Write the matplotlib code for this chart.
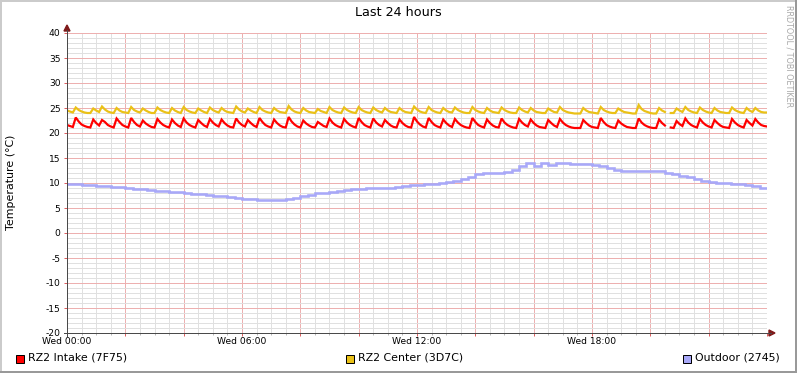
import numpy as np
import matplotlib
matplotlib.use("Agg")
import matplotlib.pyplot as plt
from matplotlib.patches import Rectangle, Polygon
from matplotlib.lines import Line2D

nan = np.nan

# ---------------- data ----------------
title = "Last 24 hours"
y_label = "Temperature (°C)"
watermark = "RRDTOOL / TOBI OETIKER"
series_names = ["RZ2 Intake (7F75)", "RZ2 Center (3D7C)", "Outdoor (2745)"]
series_colors = ["#FF0000", "#EAC117", "#A8A8F8"]
x_tick_hours = [0, 6, 12, 18]
x_tick_labels = ["Wed 00:00", "Wed 06:00", "Wed 12:00", "Wed 18:00"]
y_ticks = [-20, -15, -10, -5, 0, 5, 10, 15, 20, 25, 30, 35, 40]

# samples every 0.1 h (6 min)
intake_step_h = 0.1
intake = [
    21.6, 21.4, 21.2, 23.1, 22.3, 21.7, 21.4, 21.2, 21.1, 22.7,
    22.0, 21.5, 22.6, 22.2, 21.6, 21.3, 21.1, 22.9, 22.2, 21.6,
    21.3, 21.1, 23.0, 22.2, 21.6, 21.3, 22.5, 21.9, 21.5, 21.2,
    21.1, 22.8, 22.1, 21.6, 21.3, 21.1, 22.7, 22.0, 21.5, 21.2,
    22.9, 22.1, 21.6, 21.3, 21.1, 22.6, 22.0, 21.5, 21.2, 22.8,
    22.1, 21.6, 21.3, 22.7, 22.0, 21.5, 21.2, 21.1, 22.9, 22.1,
    21.6, 21.3, 22.6, 22.0, 21.5, 21.2, 23.0, 22.2, 21.6, 21.3,
    21.1, 22.7, 22.0, 21.5, 21.2, 21.1, 23.2, 22.3, 21.7, 21.3,
    21.1, 22.5, 21.9, 21.5, 21.2, 21.1, 22.2, 21.8, 21.4, 21.2,
    22.9, 22.1, 21.6, 21.3, 21.1, 22.8, 22.1, 21.6, 21.3, 21.1,
    23.0, 22.2, 21.6, 21.3, 21.1, 22.9, 22.1, 21.6, 21.3, 22.6,
    22.0, 21.5, 21.2, 21.1, 22.7, 22.0, 21.5, 21.2, 21.1, 23.2,
    22.3, 21.7, 21.3, 21.1, 23.0, 22.2, 21.6, 21.3, 21.1, 22.7,
    22.0, 21.5, 21.2, 22.8, 22.1, 21.6, 21.3, 21.1, 21.0, 23.0,
    22.2, 21.6, 21.3, 21.1, 22.7, 22.0, 21.5, 21.2, 21.1, 22.9,
    22.1, 21.6, 21.3, 21.1, 21.0, 22.8, 22.1, 21.6, 21.3, 22.7,
    22.0, 21.5, 21.2, 21.1, 21.0, 22.6, 22.0, 21.5, 21.2, 22.8,
    22.1, 21.6, 21.3, 21.1, 21.0, 21.0, 21.0, 22.6, 22.0, 21.5,
    21.2, 21.1, 21.0, 23.0, 22.2, 21.6, 21.3, 21.1, 21.0, 22.5,
    21.9, 21.5, 21.2, 21.1, 21.0, 21.0, 22.9, 22.1, 21.6, 21.3,
    21.1, 21.0, 21.0, 22.7, 22.0, 21.5, nan, 21.1, 21.0, 22.4,
    21.8, 21.4, 22.9, 22.1, 21.6, 21.3, 21.1, 22.8, 22.1, 21.6,
    21.3, 21.1, 22.6, 22.0, 21.5, 21.2, 21.1, 21.0, 22.8, 22.1,
    21.6, 21.3, 21.1, 22.6, 22.0, 21.5, 22.8, 22.1, 21.6, 21.4,
    21.3,
]

center_step_h = 0.1
center = [
    24.5, 24.3, 24.1, 25.1, 24.6, 24.3, 24.1, 24.0, 24.0, 24.9,
    24.5, 24.2, 25.3, 24.7, 24.3, 24.1, 24.0, 25.0, 24.5, 24.2,
    24.1, 24.0, 25.2, 24.6, 24.3, 24.1, 24.9, 24.5, 24.2, 24.0,
    24.0, 25.1, 24.6, 24.3, 24.1, 24.0, 25.0, 24.5, 24.2, 24.0,
    25.2, 24.6, 24.3, 24.1, 24.0, 24.9, 24.5, 24.2, 24.0, 25.1,
    24.6, 24.3, 24.1, 25.0, 24.5, 24.2, 24.1, 24.0, 25.3, 24.7,
    24.3, 24.1, 24.9, 24.5, 24.2, 24.0, 25.2, 24.6, 24.3, 24.1,
    24.0, 25.0, 24.5, 24.2, 24.1, 24.0, 25.4, 24.7, 24.3, 24.1,
    24.0, 25.0, 24.5, 24.2, 24.1, 24.0, 24.8, 24.4, 24.2, 24.0,
    25.2, 24.6, 24.3, 24.1, 24.0, 25.1, 24.6, 24.3, 24.1, 24.0,
    25.2, 24.6, 24.3, 24.1, 24.0, 25.1, 24.6, 24.3, 24.1, 25.0,
    24.5, 24.2, 24.1, 24.0, 25.0, 24.5, 24.2, 24.1, 24.0, 25.3,
    24.7, 24.3, 24.1, 24.0, 25.2, 24.6, 24.3, 24.1, 24.0, 25.0,
    24.5, 24.2, 24.1, 25.1, 24.6, 24.3, 24.1, 24.0, 24.0, 25.2,
    24.6, 24.3, 24.1, 24.0, 25.0, 24.5, 24.2, 24.1, 24.0, 25.1,
    24.6, 24.3, 24.1, 24.0, 24.0, 25.1, 24.6, 24.3, 24.1, 25.0,
    24.5, 24.2, 24.1, 24.0, 24.0, 24.9, 24.5, 24.2, 24.1, 25.2,
    24.6, 24.3, 24.1, 24.0, 23.9, 23.9, 23.9, 25.0, 24.5, 24.2,
    24.1, 24.0, 23.9, 25.2, 24.6, 24.3, 24.1, 24.0, 24.0, 24.9,
    24.5, 24.2, 24.1, 24.0, 23.9, 23.9, 25.6, 24.8, 24.4, 24.2,
    24.0, 23.9, 23.9, 25.0, 24.5, 24.2, nan, 24.0, 24.0, 24.9,
    24.5, 24.2, 25.2, 24.6, 24.3, 24.1, 24.0, 25.1, 24.6, 24.3,
    24.1, 24.0, 25.0, 24.5, 24.2, 24.1, 24.0, 24.0, 25.1, 24.6,
    24.3, 24.1, 24.0, 25.0, 24.5, 24.2, 25.0, 24.5, 24.2, 24.1,
    24.1,
]

# samples every 0.25 h
outdoor_step_h = 0.25
outdoor = [
    9.8, 9.8, 9.6, 9.6, 9.5, 9.4, 9.3, 9.2,
    9.0, 8.9, 8.8, 8.7, 8.5, 8.4, 8.3, 8.2,
    8.0, 7.9, 7.8, 7.6, 7.5, 7.4, 7.3, 7.1,
    6.9, 6.8, 6.7, 6.6, 6.6, 6.6, 6.8, 7.0,
    7.4, 7.7, 8.0, 8.1, 8.3, 8.5, 8.6, 8.8,
    8.9, 9.0, 9.0, 9.0, 9.1, 9.3, 9.5, 9.6,
    9.7, 9.8, 9.9, 10.0, 10.2, 10.5, 10.8, 11.3,
    11.9, 12.1, 12.1, 12.1, 12.2, 12.7, 13.4, 14.1,
    13.4, 14.1, 13.6, 14.1, 14.0, 13.8, 13.8, 13.8,
    13.6, 13.4, 13.0, 12.7, 12.5, 12.4, 12.4, 12.4,
    12.4, 12.4, 12.1, 11.9, 11.5, 11.2, 10.8, 10.5,
    10.2, 10.1, 10.0, 9.9, 9.8, 9.6, 9.4, 9.1,
    9.0,
]

# ---------------- figure ----------------
W, H, DPI = 797, 373, 100
fig = plt.figure(figsize=(W / DPI, H / DPI), dpi=DPI, facecolor="white")
plt.rcParams["font.family"] = ["DejaVu Sans"]

def fx(x):
    return x / W

def fy(y):
    return 1 - y / H

PX = 72.0 / DPI  # one pixel in points

# plot canvas: x 67..767, y 33..333
ax = fig.add_axes([fx(67), fy(333), (767 - 67) / W, 300 / H])
ax.set_facecolor("white")
ax.set_xlim(0, 24)
ax.set_ylim(-20, 40)

for vals, step, color, lw, ds in [
    (outdoor, outdoor_step_h, series_colors[2], 2.6, "steps-post"),
    (center, center_step_h, series_colors[1], 2.2, "default"),
    (intake, intake_step_h, series_colors[0], 2.2, "default"),
]:
    t = np.arange(len(vals)) * step
    ax.plot(t, vals, drawstyle=ds, color=color, lw=lw * PX,
            solid_joinstyle="miter", zorder=3)

# ticks & grid
ax.set_xticks(np.arange(0, 24.01, 2))
ax.set_xticks(np.arange(0, 24.01, 0.5), minor=True)
lab = dict(zip(x_tick_hours, x_tick_labels))
ax.set_xticklabels([lab.get(int(h), "") for h in np.arange(0, 24.01, 2)])
ax.set_yticks(y_ticks)
ax.set_yticks(np.arange(-20, 40.01, 1), minor=True)
ax.set_yticklabels([str(v) for v in y_ticks])

ax.set_axisbelow(True)
ax.grid(which="minor", color="#E0E0E0", linestyle=(0, (1, 1)), lw=PX, antialiased=False)
ax.grid(which="major", color="#EDB0B0", linestyle=(0, (1, 1)), lw=PX, antialiased=False)

ax.tick_params(axis="x", which="major", direction="out", length=3 * PX, width=PX,
               color="#E06060", labelsize=6.6, pad=1.0, labelcolor="black")
ax.tick_params(axis="x", which="minor", direction="out", length=2 * PX, width=PX,
               color="#B8B8B8")
ax.tick_params(axis="y", which="major", direction="out", length=3 * PX, width=PX,
               color="#E06060", labelsize=6.6, pad=2.5, labelcolor="black")
ax.tick_params(axis="y", which="minor", length=0)

for s in ax.spines.values():
    s.set_visible(False)

# axes lines with arrows (figure pixel coords)
axis_col = "#4A4A4A"
arrow_col = "#7F1A1A"
fig.add_artist(Line2D([fx(64), fx(771)], [fy(333), fy(333)], color=axis_col,
                      lw=PX, transform=fig.transFigure, antialiased=False))
fig.add_artist(Line2D([fx(67), fx(67)], [fy(336), fy(30)], color=axis_col,
                      lw=PX, transform=fig.transFigure, antialiased=False))
fig.add_artist(Polygon([[fx(769), fy(330)], [fx(775), fy(333)], [fx(769), fy(336)]],
                       closed=True, color=arrow_col, transform=fig.transFigure))
fig.add_artist(Polygon([[fx(64), fy(31)], [fx(67), fy(25)], [fx(70), fy(31)]],
                       closed=True, color=arrow_col, transform=fig.transFigure))

# texts
fig.text(fx(398), fy(13), title, ha="center", va="center", fontsize=9.2, color="black")
fig.text(fx(11), fy(182), y_label, ha="center", va="center", rotation=90,
         fontsize=7.9, color="black")
fig.text(fx(789), fy(56), watermark, ha="center", va="center", rotation=270,
         fontsize=5.8, color="#A8A8A8")

# legend
legend_box_x = [16, 346, 683]
for bx, name, col in zip(legend_box_x, series_names, series_colors):
    fig.add_artist(Rectangle((fx(bx), fy(363)), 8 / W, 8 / H, facecolor=col,
                             edgecolor="black", lw=PX, transform=fig.transFigure))
    fig.text(fx(bx + 12), fy(358), name, ha="left", va="center", fontsize=7.9,
             color="black")

# frame shading
fig.add_artist(Rectangle((0, fy(2)), 1, 2 / H, facecolor="#CBCBCB", edgecolor="none",
                         transform=fig.transFigure))
fig.add_artist(Rectangle((0, 0), 2 / W, 1, facecolor="#CBCBCB", edgecolor="none",
                         transform=fig.transFigure))
fig.add_artist(Rectangle((0, 0), 1, 2 / H, facecolor="#999999", edgecolor="none",
                         transform=fig.transFigure))
fig.add_artist(Rectangle((fx(795), 0), 2 / W, 1, facecolor="#999999", edgecolor="none",
                         transform=fig.transFigure))

fig.savefig("out.png", dpi=DPI, facecolor="white")
